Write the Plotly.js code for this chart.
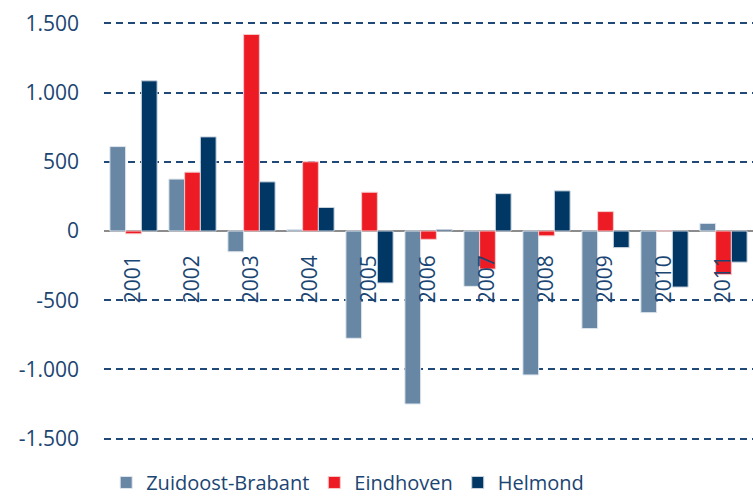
<!DOCTYPE html>
<html>
<head>
<meta charset="utf-8">
<script src="https://cdn.plot.ly/plotly-3.0.1.min.js"></script>
<style>html,body{margin:0;padding:0;background:#fff;}#chart{width:753px;height:504px;}</style>
</head>
<body>
<div id="chart"></div>
<script>
var years = ["2001","2002","2003","2004","2005","2006","2007","2008","2009","2010","2011"];
var zuidoostBrabant = [610, 375, -150, 10, -775, -1250, -400, -1040, -705, -590, 55];
var eindhoven = [-20, 425, 1420, 500, 280, -60, -275, -35, 140, 0, -315];
var helmond = [1085, 680, 355, 170, -375, 10, 270, 290, -120, -405, -225];
var yTicks = [-1500, -1000, -500, 0, 500, 1000, 1500];
var yTickText = ["-1.500", "-1.000", "-500", "0", "500", "1.000", "1.500"];

var fontFam = "Open Sans, sans-serif";
var textColor = "#1b4572";

var traces = [
  {name: "Zuidoost-Brabant", x: years, y: zuidoostBrabant, type: "bar",
   marker: {color: "#6787a4", line: {color: "#dfe6ee", width: 1}}},
  {name: "Eindhoven", x: years, y: eindhoven, type: "bar",
   marker: {color: "#ed1c24", line: {color: "#f6c9cb", width: 1}}},
  {name: "Helmond", x: years, y: helmond, type: "bar",
   marker: {color: "#003764", line: {color: "#c9d3df", width: 1}}}
];

var layout = {
  width: 753, height: 504,
  margin: {l: 104, r: 0, t: 22, b: 64, autoexpand: false},
  paper_bgcolor: "#fff", plot_bgcolor: "#fff",
  barmode: "group", bargap: 0.2, bargroupgap: 0,
  font: {family: fontFam, color: textColor, size: 20},
  xaxis: {
    type: "category",
    anchor: "free", position: 0.5,
    showline: false, showgrid: false, zeroline: false,
    ticks: "", tickangle: -90, layer: "above traces",
    tickfont: {family: fontFam, size: 21, color: textColor},
    ticklabelstandoff: 19
  },
  yaxis: {
    range: [-1510, 1510],
    tickvals: yTicks, ticktext: yTickText,
    showgrid: true, gridcolor: "#1f4a78", gridwidth: 2, griddash: "7px,5px",
    zeroline: true, zerolinecolor: "#8c8c8c", zerolinewidth: 2,
    showline: false, ticks: "",
    tickfont: {family: fontFam, size: 21, color: textColor},
    ticklabelstandoff: 24
  },
  showlegend: true,
  legend: {
    orientation: "h",
    xref: "container", yref: "container",
    x: 0.141, xanchor: "left", y: 0.004, yanchor: "bottom",
    font: {family: fontFam, size: 20, color: textColor},
    itemwidth: 30, traceorder: "normal", borderwidth: 0
  }
};

Plotly.newPlot("chart", traces, layout, {displayModeBar: false, staticPlot: true});
</script>
</body>
</html>
